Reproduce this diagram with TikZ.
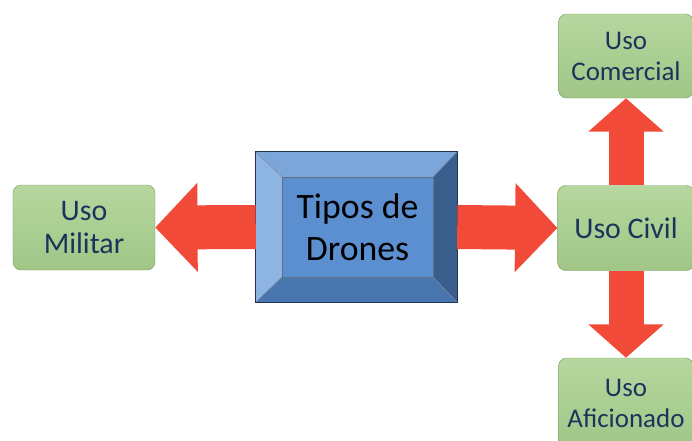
\documentclass[tikz,border=0pt]{standalone}
\usepackage{fontspec}
\setmainfont{Carlito}
\usetikzlibrary{arrows.meta,calc}

\definecolor{flecha}{RGB}{242,74,56}
\definecolor{verde}{RGB}{169,208,142}
\definecolor{verdeborde}{RGB}{120,160,95}
\definecolor{texto}{RGB}{28,52,92}
\definecolor{cara}{RGB}{91,143,208}
\definecolor{biselsup}{RGB}{124,166,218}
\definecolor{biselizq}{RGB}{141,180,226}
\definecolor{biselder}{RGB}{58,94,140}
\definecolor{biselinf}{RGB}{74,118,176}
\definecolor{borde}{RGB}{32,52,82}

\begin{document}
\begin{tikzpicture}[x=0.03cm,y=-0.03cm,
    uso/.style={draw=verdeborde,rounded corners=7pt,top color=verde!85!white,bottom color=verde!95!black,
        text=texto,align=center,inner sep=0pt,font=\fontsize{25.5}{27.5}\selectfont},
    usop/.style={uso,font=\fontsize{23}{26.5}\selectfont},
    flechita/.style={flecha,line width=1.32cm,-{Triangle[length=1.27cm,width=2.6cm]}},
    flechav/.style={flecha,line width=1.05cm,-{Triangle[length=1cm,width=2.2cm]}}]
          \useasboundingbox (0,0) rectangle (692,440);

          \node[fill=cara,minimum width=4.53cm,minimum height=3cm,inner sep=0pt,
          font=\fontsize{30.5}{36}\selectfont,align=center] (core) at (357.5,227) {Tipos de\\Drones};
          \coordinate (NW) at ($(core.north west)+(-26,-25)$);
          \coordinate (NE) at ($(core.north east)+(24,-25)$);
          \coordinate (SW) at ($(core.south west)+(-26,25)$);
          \coordinate (SE) at ($(core.south east)+(24,25)$);

          \fill[biselsup] (NW) -- (NE) -- (core.north east) -- (core.north west) -- cycle;
          \fill[biselizq] (NW) -- (core.north west) -- (core.south west) -- (SW) -- cycle;
          \fill[biselder] (NE) -- (SE) -- (core.south east) -- (core.north east) -- cycle;
          \fill[biselinf] (SW) -- (core.south west) -- (core.south east) -- (SE) -- cycle;
          \draw[borde!60,thin] (NW) -- (core.north west) (NE) -- (core.north east)
          (SW) -- (core.south west) (SE) -- (core.south east);
          \draw[borde!70,thin] (core.north west) rectangle (core.south east);
          \draw[borde,thick] (NW) rectangle (SE);

          \node[uso,minimum width=4.26cm,minimum height=2.55cm] (mil) at (84,227.5) {Uso\\Militar};
          \node[uso,minimum width=4.1cm,minimum height=2.55cm] (civ) at (626,228) {Uso Civil};
          \node[usop,minimum width=4.05cm,minimum height=2.52cm] (com) at (626,56) {Uso\\Comercial};
          \node[usop,minimum width=4.05cm,minimum height=2.7cm] (afi) at (626,403) {Uso\\Aficionado};

          \draw[flechita] (NW |- core.west) -- (mil.east);
          \draw[flechita] (NE |- core.east) -- (civ.west);
          \draw[flechav] (civ.north) -- (com.south);
          \draw[flechav] (civ.south) -- (afi.north);

          \end{tikzpicture}
\end{document}
